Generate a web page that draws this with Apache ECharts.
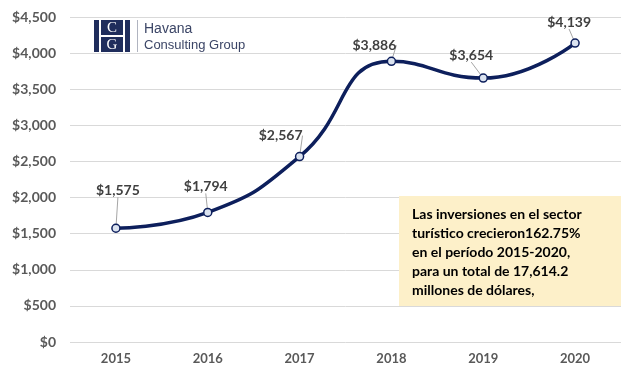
<!DOCTYPE html>
<html>
<head>
<meta charset="utf-8">
<script src="https://cdn.jsdelivr.net/npm/echarts@6/dist/echarts.min.js"></script>
<style>html,body{margin:0;padding:0;background:#fff;}#c{width:640px;height:383px;}</style>
</head>
<body>
<div id="c"></div>
<script>
const years = ['2015', '2016', '2017', '2018', '2019', '2020'];
const values = [1575, 1794, 2567, 3886, 3654, 4139];
const yTicks = [0, 500, 1000, 1500, 2000, 2500, 3000, 3500, 4000, 4500];
const noteLines = [
  'Las inversiones en el sector',
  'turístico crecieron162.75%',
  'en el período 2015-2020,',
  'para un total de 17,614.2',
  'millones de dólares,'
];
const labelOffsets = [[2, -38], [-2, -26], [-19, -21], [-17, -16], [-12, -23], [-6, -21]];

function money(v) { return '$' + v.toLocaleString('en-US'); }

const chart = echarts.init(document.getElementById('c'), null, { renderer: 'canvas' });
const FONT = 'Lato, "Open Sans", sans-serif';
chart.setOption({
  animation: false,
  backgroundColor: '#ffffff',
  grid: { left: 70, right: 19, top: 17, bottom: 41 },
  xAxis: {
    type: 'category',
    data: years,
    boundaryGap: true,
    axisLine: { show: false },
    axisTick: { show: false },
    axisLabel: { color: '#595959', fontFamily: FONT, fontWeight: 'bold', fontSize: 13, margin: 10 }
  },
  yAxis: {
    type: 'value',
    min: yTicks[0],
    max: yTicks[yTicks.length - 1],
    interval: 500,
    axisLine: { show: false },
    axisTick: { show: false },
    splitLine: { lineStyle: { color: '#d9d9d9', width: 1 } },
    axisLabel: { color: '#595959', fontFamily: FONT, fontWeight: 'bold', fontSize: 14, margin: 14, formatter: money }
  },
  series: [{
    type: 'line',
    data: values,
    smooth: 0.5,
    symbol: 'circle',
    symbolSize: 8,
    itemStyle: { color: '#dbe3f0', borderColor: '#0d1f5c', borderWidth: 1.5 },
    lineStyle: { color: '#0d1f5c', width: 3.5 },
    label: {
      show: true,
      position: 'inside',
      formatter: p => money(p.value),
      color: '#404040',
      fontFamily: FONT,
      fontWeight: 'bold',
      fontSize: 14
    },
    labelLine: { show: true, lineStyle: { color: '#a6a6a6', width: 1 } },
    labelLayout: p => ({ dx: labelOffsets[p.dataIndex][0], dy: labelOffsets[p.dataIndex][1] }),
    z: 5
  }],
  graphic: [
    { type: 'rect', shape: { x: 399, y: 196, width: 222, height: 110 }, style: { fill: '#fdf0c9' }, z: 10 },
    { type: 'text', x: 412, y: 205, z: 11,
      style: { text: noteLines.join('\n'), fill: '#000000', font: 'bold 14px ' + FONT, lineHeight: 19, verticalAlign: 'top' } },
    // logo
    { type: 'rect', shape: { x: 94, y: 20, width: 5, height: 32 }, style: { fill: '#1f2d5c' }, z: 10 },
    { type: 'rect', shape: { x: 125, y: 20, width: 5, height: 32 }, style: { fill: '#1f2d5c' }, z: 10 },
    { type: 'rect', shape: { x: 101, y: 20, width: 22, height: 15 }, style: { fill: '#1f2d5c' }, z: 10 },
    { type: 'rect', shape: { x: 101, y: 37, width: 22, height: 15 }, style: { fill: '#1f2d5c' }, z: 10 },
    { type: 'text', x: 112, y: 28, z: 11, style: { text: 'C', fill: '#ffffff', font: '15px "Liberation Serif", serif', align: 'center', verticalAlign: 'middle' } },
    { type: 'text', x: 112, y: 45, z: 11, style: { text: 'G', fill: '#ffffff', font: '15px "Liberation Serif", serif', align: 'center', verticalAlign: 'middle' } },
    { type: 'rect', shape: { x: 137, y: 20, width: 1, height: 32 }, style: { fill: '#b0b4c0' }, z: 10 },
    { type: 'text', x: 144, y: 29, z: 11, style: { text: 'Havana', fill: '#3b4566', font: '14px "Liberation Sans", Arial, sans-serif', verticalAlign: 'middle' } },
    { type: 'text', x: 144, y: 45, z: 11, style: { text: 'Consulting Group', fill: '#3b4566', font: '13px "Liberation Sans", Arial, sans-serif', verticalAlign: 'middle' } }
  ]
});
</script>
</body>
</html>
